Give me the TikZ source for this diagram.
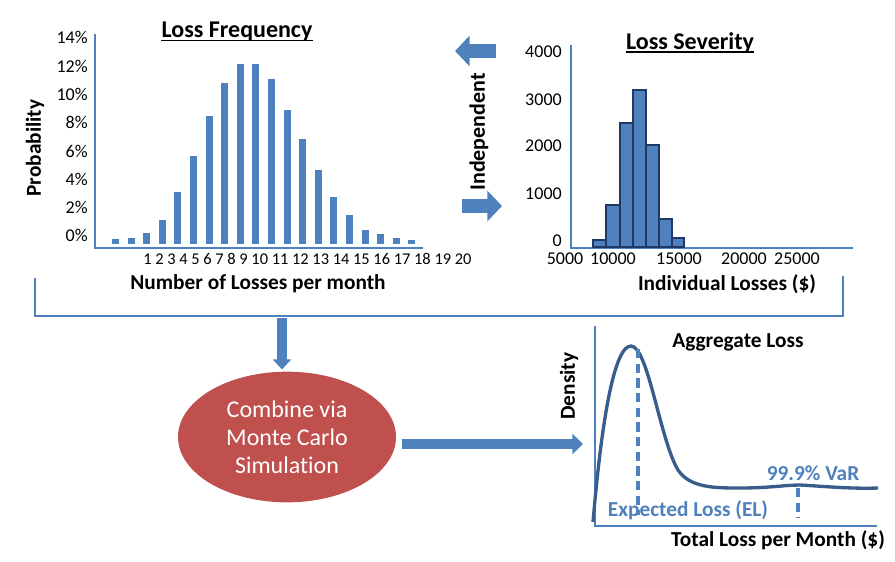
\documentclass[tikz,border=0pt]{standalone}
\usepackage{fontspec}
\setmainfont{Carlito}[Ligatures=NoCommon]
\usepackage{xcolor}
\usepackage{tikz}
\usetikzlibrary{positioning, shapes.geometric, arrows.meta, calc}

\definecolor{chartblue}{RGB}{79,129,189}
\definecolor{curveblue}{RGB}{56,93,138}
\definecolor{mcred}{RGB}{192,80,77}
\definecolor{bardark}{RGB}{31,56,100}

\begin{document}
\begin{tikzpicture}[
  x=0.75pt, y=-0.75pt,
  ticklab/.style={font=\fontsize{13.5}{15}\selectfont, inner sep=0pt},
  axtitle/.style={font=\fontsize{16}{19}\selectfont\bfseries, inner sep=0pt},
  charttitle/.style={font=\fontsize{18}{21}\selectfont\bfseries, inner sep=0pt},
  subtitle/.style={font=\fontsize{16}{19}\selectfont\bfseries, inner sep=0pt},
  axis/.style={chartblue, line width=1.6pt},
  freqbar/.style={fill=chartblue},
  sevbar/.style={fill=chartblue, draw=bardark, line width=0.8pt},
  bigarrow/.style={chartblue, line width=10.5pt, -{Triangle[length=11pt, width=22.5pt]}},
  flowarrow/.style={chartblue, line width=7.5pt, -{Triangle[length=8pt, width=14pt]}},
  marker/.style={chartblue, line width=2.4pt, dash pattern=on 7pt off 4pt}
]
\useasboundingbox (0,0) rectangle (895,561);

% ===== Loss Frequency =====
\node[charttitle] (ftitle) at (237,32) {Loss Frequency};
\draw[line width=1.4pt] ([yshift=-2pt]ftitle.base west) -- ([yshift=-2pt]ftitle.base east);

\draw[axis] (95,34) -- (95,248) -- (423,248);
\foreach \p/\y in {14/37, 12/66, 10/94, 8/122, 6/151, 4/179, 2/207, 0/235}
  \node[ticklab, anchor=east] at (88,\y) {\p\%};

\foreach \i/\t in {1/239, 2/238, 3/233, 4/220, 5/192, 6/156, 7/116, 8/83, 9/64, 10/64,
                   11/79, 12/110, 13/139, 14/170, 15/197, 16/215, 17/230, 18/234, 19/238, 20/240}
  \fill[freqbar] ({112+15.6*(\i-1)},244) rectangle ({119+15.6*(\i-1)},\t);

\node[font=\fontsize{12.3}{14}\selectfont, inner sep=0pt, anchor=west] (fticks) at (143,259)
  {1 2 3 4 5 6 7 8 9 10 11 12 13 14 15 16 17 18 19 20};
\node[axtitle] (fxlab) at (258,284) {Number of Losses per month};
\node[axtitle, rotate=90] (fylab) at (35,148) {Probability};

% ===== Independent =====
\coordinate (indL0) at (496,51);
\coordinate (indL1) at (455,51);
\coordinate (indR0) at (462,206);
\coordinate (indR1) at (502,206);
\draw[bigarrow] (indL0) -- (indL1);
\draw[bigarrow] (indR0) -- (indR1);
\node[axtitle, font=\fontsize{16.5}{19}\selectfont\bfseries, rotate=90] (indep) at (479,132) {Independent};

% ===== Loss Severity =====
\node[charttitle] (stitle) at (690,43) {Loss Severity};
\draw[line width=1.4pt] ([yshift=-2pt]stitle.base west) -- ([yshift=-2pt]stitle.base east);

\draw[axis] (571,45) -- (571,248) -- (853,248);
\foreach \v/\y in {4000/52, 3000/100, 2000/146, 1000/194, 0/241}
  \node[ticklab, anchor=east] at (562,\y) {\v};

\foreach \a/\b/\t in {593/606/240, 606/620/205, 620/633/123, 633/646/90,
                      646/659/145, 659/672/219, 672/684/238}
  \filldraw[sevbar] (\a,247) rectangle (\b,\t);

\foreach \v/\x in {5000/565, 10000/613, 15000/679, 20000/744, 25000/797}
  \node[ticklab] at (\x,259) {\v};
\node[axtitle] (sxlab) at (727,284) {Individual Losses (\$)};

% ===== Bracket + Monte Carlo =====
\draw[chartblue, line width=2pt] (35,278) -- (35,316) -- (843,316) -- (843,276);
\coordinate (brk) at (282,318);

\node[ellipse, fill=mcred, minimum width=163.5pt, minimum height=98pt, align=center,
      text=white, font=\fontsize{18}{21}\selectfont] (mc) at (287,437)
  {Combine via\\Monte Carlo\\Simulation};

\draw[flowarrow, -{Triangle[length=7.5pt, width=13.5pt]}] (brk) -- ([yshift=1.5pt]brk |- mc.north);

\coordinate (aggin) at (583,444);
\draw[flowarrow, -{Triangle[length=8pt, width=15pt]}, shorten <=4pt] (mc.east |- aggin) -- (aggin);

% ===== Aggregate Loss =====
\draw[axis] (595,326) -- (595,526) -- (877,526);
\node[subtitle] (atitle) at (738,342) {Aggregate Loss};
\node[axtitle, rotate=90] (aylab) at (569,386) {Density};
\node[axtitle] (axlab) at (778,540) {Total Loss per Month (\$)};

\draw[curveblue, line width=2.5pt]
  (593,522) .. controls (600,440) and (612,346) .. (631,346)
  .. controls (648,346) and (660,440) .. (678,470)
  .. controls (690,488) and (715,488) .. (740,488)
  .. controls (770,488) and (785,485) .. (800,485)
  .. controls (820,486) and (850,489) .. (878,488);

\draw[marker] (638,349) -- (638,515);
\draw[marker] (798,488) -- (798,518);
\node[subtitle, text=chartblue] (el) at (688,510) {Expected Loss (EL)};
\node[subtitle, text=chartblue] (var) at (813,473) {99.9\% VaR};

\end{tikzpicture}
\end{document}
